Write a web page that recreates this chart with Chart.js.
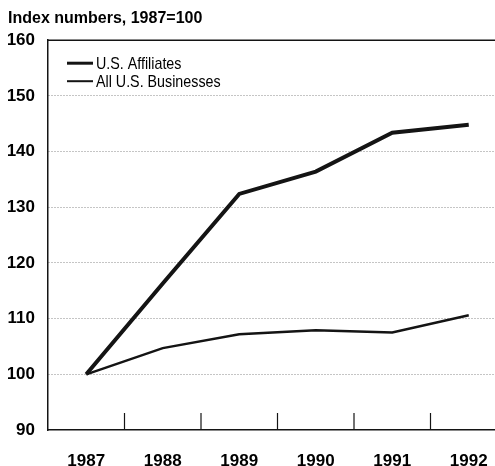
<!DOCTYPE html>
<html>
<head>
<meta charset="utf-8">
<script src="https://cdn.jsdelivr.net/npm/chart.js@4.4.1/dist/chart.umd.min.js"></script>
<style>
  html, body { margin: 0; padding: 0; background: #fff; overflow: hidden; }
  #wrap { position: relative; width: 520px; height: 466px; }
</style>
</head>
<body>
<div id="wrap"><canvas id="chart-canvas"></canvas></div>
<script>
const years = ['1987', '1988', '1989', '1990', '1991', '1992'];
const affiliates = [100, 116.3, 132.4, 136.4, 143.4, 144.8];
const businesses = [100, 104.7, 107.2, 107.9, 107.5, 110.6];
const seriesNames = ['U.S. Affiliates', 'All U.S. Businesses'];
const chartTitle = 'Index numbers, 1987=100';

const ink = '#141414';
const labelFont = { family: '"Liberation Sans", Arial, sans-serif', size: 17, weight: 'bold' };

// top frame line + short tick marks between the years, drawn up from the x axis
const frameTicks = {
  id: 'frameTicks',
  afterDatasetsDraw(chart) {
    const { ctx, chartArea, scales } = chart;
    const x = scales.x;
    ctx.save();
    ctx.strokeStyle = ink;
    ctx.lineWidth = 1.5;
    ctx.beginPath();
    ctx.moveTo(chartArea.left, chartArea.top);
    ctx.lineTo(chartArea.right, chartArea.top);
    ctx.stroke();
    ctx.lineWidth = 1.2;
    for (let i = 1; i < years.length; i++) {
      const px = (x.getPixelForValue(i - 1) + x.getPixelForValue(i)) / 2;
      ctx.beginPath();
      ctx.moveTo(px, chartArea.bottom);
      ctx.lineTo(px, chartArea.bottom - 17);
      ctx.stroke();
    }
    ctx.restore();
  }
};

// legend inside the plot, top left (condensed type, squeezed horizontally)
const innerLegend = {
  id: 'innerLegend',
  afterDatasetsDraw(chart) {
    const { ctx, chartArea } = chart;
    ctx.save();
    ctx.font = '17px "Liberation Sans", Arial, sans-serif';
    ctx.textBaseline = 'middle';
    ctx.fillStyle = '#000';
    chart.data.datasets.forEach((ds, i) => {
      const y = chartArea.top + 23 + i * 18;
      const x0 = chartArea.left + 19;
      ctx.strokeStyle = ink;
      ctx.lineWidth = i === 0 ? 3 : 2;
      ctx.beginPath();
      ctx.moveTo(x0, y);
      ctx.lineTo(x0 + 26, y);
      ctx.stroke();
      ctx.save();
      ctx.translate(x0 + 29, y + 1);
      ctx.scale(0.84, 1);
      ctx.fillText(ds.label, 0, 0);
      ctx.restore();
    });
    ctx.restore();
  }
};

let ctx = document.getElementById('chart-canvas');
let newChart = new Chart(ctx, {
  type: 'line',
  data: {
    labels: years,
    datasets: [
      { label: seriesNames[0], data: affiliates, fill: false, borderColor: ink, borderWidth: 4, pointRadius: 0, tension: 0 },
      { label: seriesNames[1], data: businesses, fill: false, borderColor: ink, borderWidth: 2.5, pointRadius: 0, tension: 0 }
    ]
  },
  options: {
    responsive: true,
    maintainAspectRatio: false,
    animation: false,
    layout: { padding: { left: 8, right: 13, top: 0, bottom: 0 } },
    plugins: {
      legend: { display: false },
      tooltip: { enabled: false },
      title: {
        display: true, text: chartTitle, align: 'start', color: '#000',
        font: { family: '"Liberation Sans", Arial, sans-serif', size: 16, weight: 'bold' },
        padding: { top: 9, bottom: 12 }
      }
    },
    scales: {
      x: {
        offset: true,
        afterFit: (scale) => { scale.height = 36; },
        grid: { display: false },
        border: { display: true, color: ink, width: 1.5 },
        ticks: { color: '#000', font: labelFont, padding: 13, maxRotation: 0 }
      },
      y: {
        min: 90, max: 160,
        afterFit: (scale) => { scale.width = 40; },
        grid: {
          drawTicks: false,
          color: (c) => (c.tick && (c.tick.value === 160 || c.tick.value === 90) ? 'rgba(0,0,0,0)' : '#8a8a8a')
        },
        border: { display: true, color: ink, width: 1.5, dash: [1, 2] },
        ticks: { stepSize: 10, color: '#000', font: labelFont, padding: 13 }
      }
    }
  },
  plugins: [frameTicks, innerLegend]
});
</script>
</body>
</html>
